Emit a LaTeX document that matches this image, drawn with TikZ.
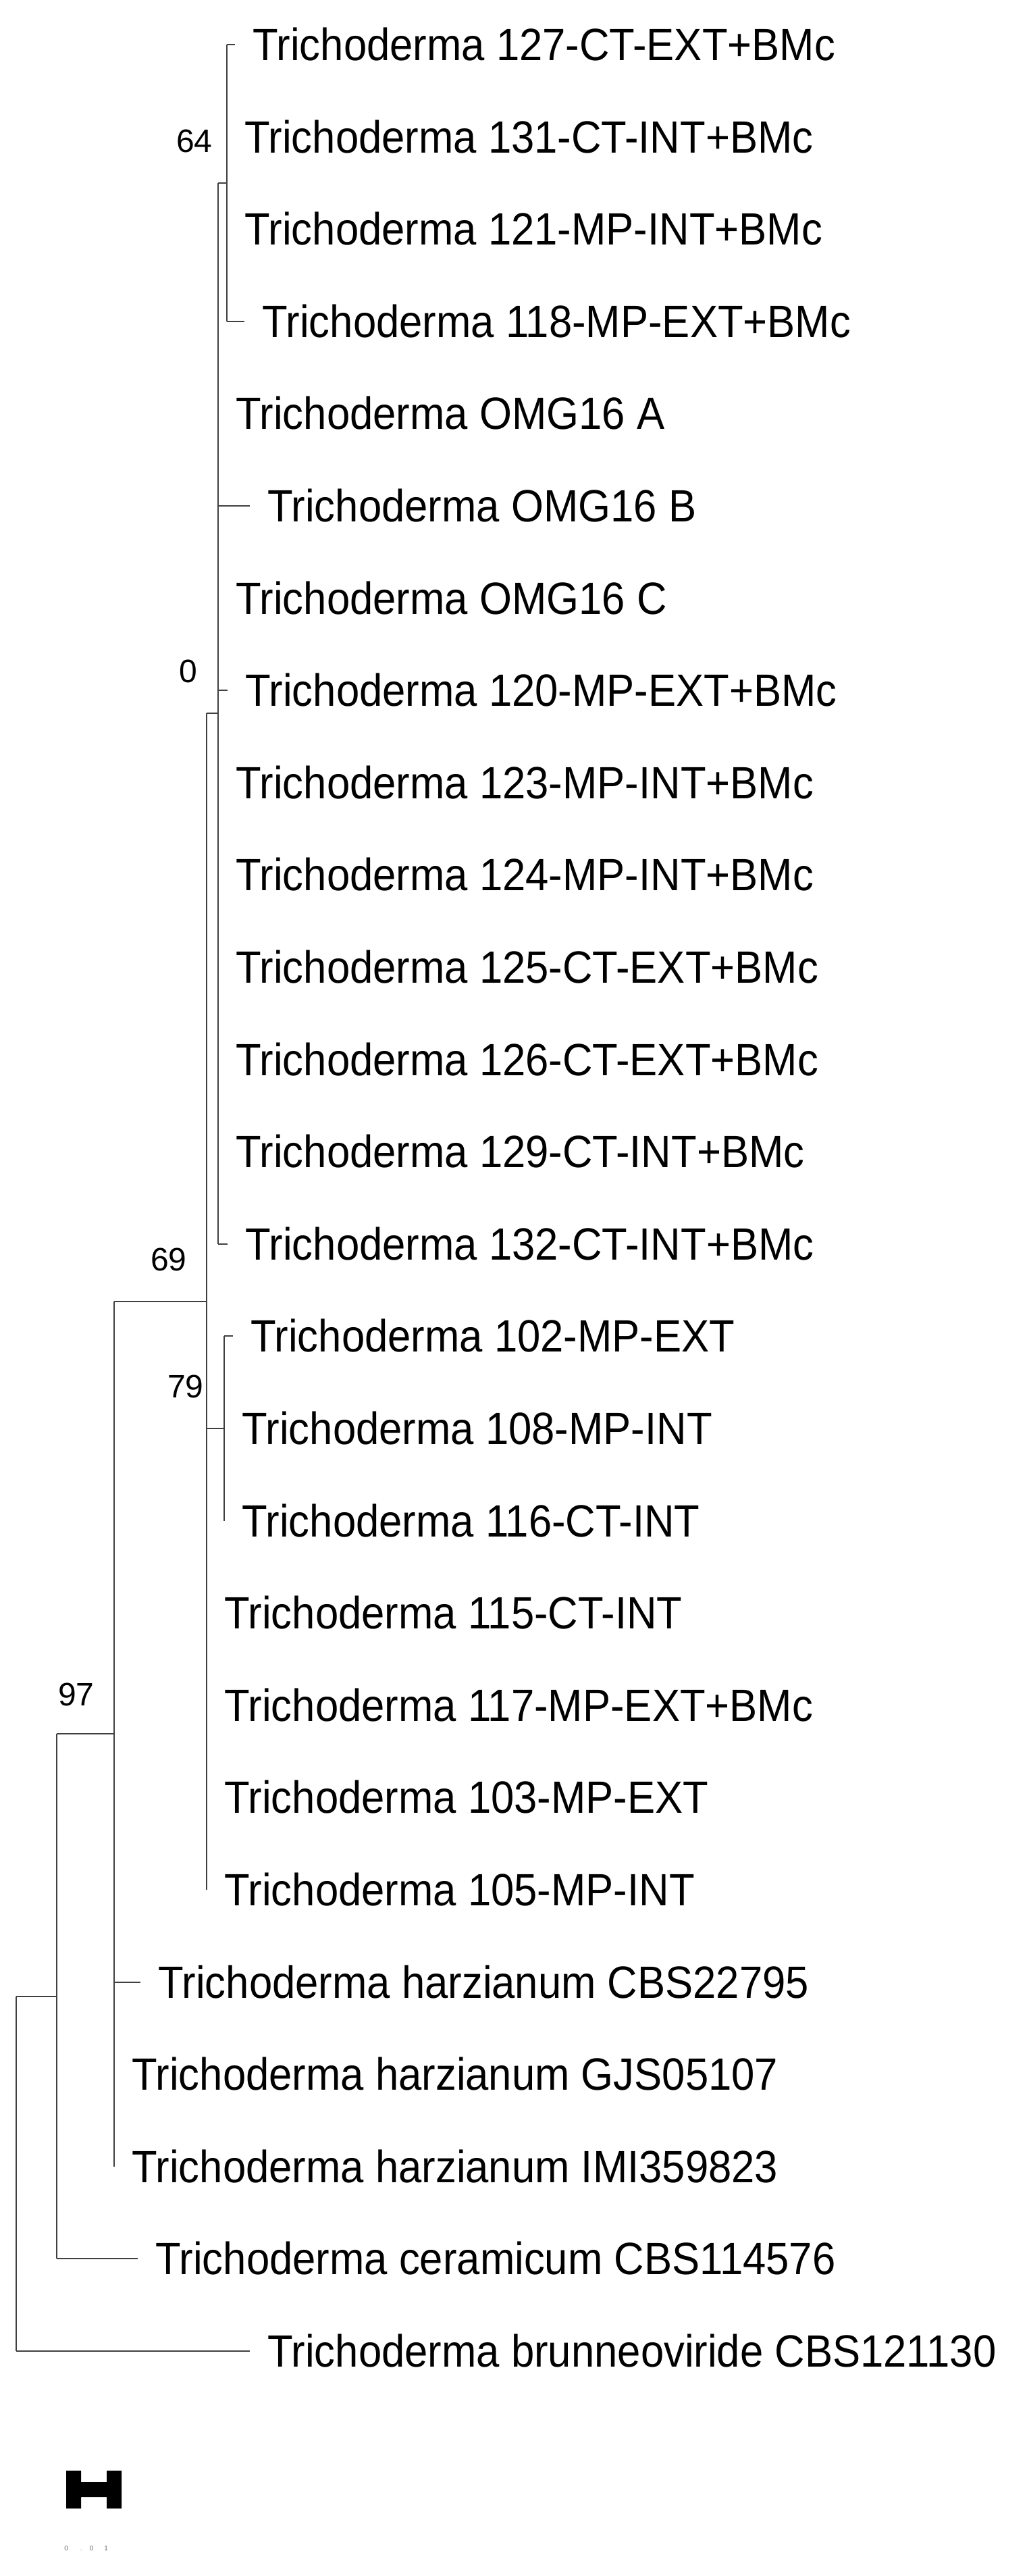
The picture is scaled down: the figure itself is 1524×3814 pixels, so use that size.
\documentclass[tikz,border=0pt]{standalone}
\usepackage{fontspec}
\setmainfont{Liberation Sans}
\newfontfamily\leaffont[FakeStretch=0.92]{Liberation Sans}

\begin{document}
\begin{tikzpicture}[x=0.5pt, y=-0.5pt, leaf/.style={anchor=west, inner xsep=13pt, inner ysep=0pt, font=\leaffont\fontsize{33.5}{40}\selectfont}, boot/.style={anchor=east, inner sep=0pt, font=\fontsize{24}{28}\selectfont}, branch/.style={draw=black!75, line width=0.75pt}]
	\useasboundingbox (0,0) rectangle (1524,3814);

	% nodes
	\node[leaf] (l127) at (348,66) {Trichoderma 127-CT-EXT+BMc}; %
	\node[leaf] (l131) at (336,203) {Trichoderma 131-CT-INT+BMc}; %
	\node[leaf] (l121) at (336,339) {Trichoderma 121-MP-INT+BMc}; %
	\node[leaf] (l118) at (362,476) {Trichoderma 118-MP-EXT+BMc}; %
	\node[leaf] (lA) at (323,612) {Trichoderma OMG16 A}; %
	\node[leaf] (lB) at (370,749) {Trichoderma OMG16 B}; %
	\node[leaf] (lC) at (323,886) {Trichoderma OMG16 C}; %
	\node[leaf] (l120) at (337,1022) {Trichoderma 120-MP-EXT+BMc}; %
	\node[leaf] (l123) at (323,1159) {Trichoderma 123-MP-INT+BMc}; %
	\node[leaf] (l124) at (323,1295) {Trichoderma 124-MP-INT+BMc}; %
	\node[leaf] (l125) at (323,1432) {Trichoderma 125-CT-EXT+BMc}; %
	\node[leaf] (l126) at (323,1569) {Trichoderma 126-CT-EXT+BMc}; %
	\node[leaf] (l129) at (323,1705) {Trichoderma 129-CT-INT+BMc}; %
	\node[leaf] (l132) at (337,1842) {Trichoderma 132-CT-INT+BMc}; %
	\node[leaf] (l102) at (345,1978) {Trichoderma 102-MP-EXT}; %
	\node[leaf] (l108) at (332,2115) {Trichoderma 108-MP-INT}; %
	\node[leaf] (l116) at (332,2252) {Trichoderma 116-CT-INT}; %
	\node[leaf] (l115) at (306,2388) {Trichoderma 115-CT-INT}; %
	\node[leaf] (l117) at (306,2525) {Trichoderma 117-MP-EXT+BMc}; %
	\node[leaf] (l103) at (306,2661) {Trichoderma 103-MP-EXT}; %
	\node[leaf] (l105) at (306,2798) {Trichoderma 105-MP-INT}; %
	\node[leaf] (lcbs) at (208,2935) {Trichoderma harzianum CBS22795}; %
	\node[leaf] (lgjs) at (169,3071) {Trichoderma harzianum GJS05107}; %
	\node[leaf] (limi) at (169,3208) {Trichoderma harzianum IMI359823}; %
	\node[leaf] (lcer) at (204,3344) {Trichoderma ceramicum CBS114576}; %
	\node[leaf] (lbru) at (370,3481) {Trichoderma brunneoviride CBS121130}; %

	% inner nodes
	\coordinate (n64) at (336,271);
	\coordinate (n0) at (323,1056);
	\coordinate (n79) at (332,2115);
	\coordinate (n69) at (306,1927);
	\coordinate (n97) at (169,2567);
	\coordinate (ncer) at (84,2956);
	\coordinate (root) at (24,3218);

	% bootstrap
	\node[boot] (b64) at ([shift={(-21,-62)}]n64) {64}; %
	\node[boot] (b0) at ([shift={(-30,-62)}]n0) {0}; %
	\node[boot] (b69) at ([shift={(-29,-62)}]n69) {69}; %
	\node[boot] (b79) at ([shift={(-30,-62)}]n79) {79}; %
	\node[boot] (b97) at ([shift={(-29,-58)}]n97) {97}; %

	% edges
	\draw[branch] (n64 |- l127) -- (n64 |- l118);
	\draw[branch] (n64 |- l127) -- (l127.west);
	\draw[branch] (n64 |- l118) -- (l118.west);
	\draw[branch] (n0 |- n64) -- (n64);
	\draw[branch] (n0 |- n64) -- (n0 |- l132);
	\draw[branch] (n0 |- lB) -- (lB.west);
	\draw[branch] (n0 |- l120) -- (l120.west);
	\draw[branch] (n0 |- l132) -- (l132.west);
	\draw[branch] (n69 |- n0) -- (n0);
	\draw[branch] (n79 |- l102) -- (n79 |- l116);
	\draw[branch] (n79 |- l102) -- (l102.west);
	\draw[branch] (n69 |- n79) -- (n79);
	\draw[branch] (n69 |- n0) -- (n69 |- l105);
	\draw[branch] (n97 |- n69) -- (n69);
	\draw[branch] (n97 |- n69) -- (n97 |- limi);
	\draw[branch] (n97 |- lcbs) -- (lcbs.west);
	\draw[branch] (ncer |- n97) -- (n97);
	\draw[branch] (ncer |- n97) -- (ncer |- lcer);
	\draw[branch] (ncer |- lcer) -- (lcer.west);
	\draw[branch] (root |- ncer) -- (ncer);
	\draw[branch] (root |- ncer) -- (root |- lbru);
	\draw[branch] (root |- lbru) -- (lbru.west);

	% scale bar
	\fill[black] (98,3658) rectangle (120,3714) (158,3658) rectangle (180,3714) (120,3675) rectangle (158,3697);
	\node[anchor=west, inner sep=0pt, text=black!60, font=\fontsize{5}{6}\selectfont] (scale) at (95,3773) {0\hspace{9pt}.\hspace{5.5pt}0\hspace{8pt}1}; %
\end{tikzpicture}
\end{document}
